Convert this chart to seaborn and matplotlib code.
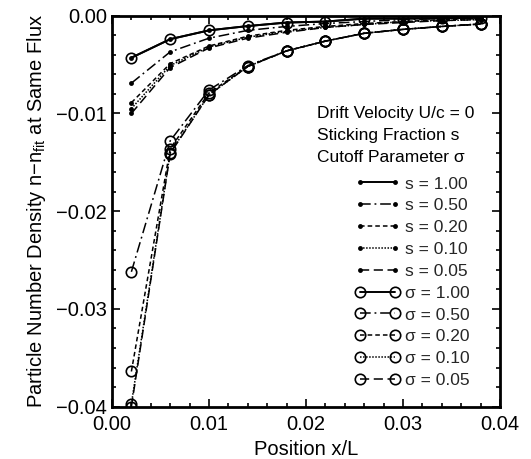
from matplotlib import pyplot as plt
from matplotlib.ticker import MultipleLocator, FuncFormatter
import numpy as np
import pandas as pd
import seaborn as sns

# --------------------------------------------------------
# Data
# --------------------------------------------------------
position = [0.002, 0.006, 0.010, 0.014, 0.018, 0.022, 0.026, 0.030, 0.034, 0.038]

s_labels = ["s = 1.00", "s = 0.50", "s = 0.20", "s = 0.10", "s = 0.05"]
s_100 = [-0.0043, -0.0024, -0.0015, -0.00106, -0.0007, -0.0006, -0.0003, -0.0003, -0.00025, -0.0002]
s_050 = [-0.0069, -0.0037, -0.0023, -0.0015, -0.0011, -0.0008, -0.0006, -0.0004, -0.0003, -0.0002]
s_020 = [-0.0089, -0.0049, -0.0031, -0.0021, -0.0015, -0.0011, -0.0008, -0.0006, -0.0004, -0.0003]
s_010 = [-0.0095, -0.0051, -0.0032, -0.0022, -0.0016, -0.0012, -0.0009, -0.0006, -0.0005, -0.0004]
s_005 = [-0.0100, -0.0053, -0.0033, -0.0023, -0.0017, -0.0012, -0.0009, -0.0007, -0.0005, -0.0004]

sig_labels = ["σ = 1.00", "σ = 0.50", "σ = 0.20", "σ = 0.10", "σ = 0.05"]
sig_100 = [-0.0043, -0.0024, -0.0015, -0.00106, -0.0007, -0.0006, -0.0003, -0.0003, -0.00025, -0.0002]
sig_050 = [-0.0262, -0.0128, -0.0076, -0.0051, -0.0036, -0.0026, -0.0018, -0.0014, -0.0011, -0.00085]
sig_020 = [-0.0364, -0.0136, -0.0079, -0.0052, -0.0036, -0.0026, -0.0018, -0.0014, -0.0011, -0.00085]
sig_010 = [-0.0397, -0.0140, -0.0081, -0.0052, -0.0036, -0.0026, -0.0018, -0.0014, -0.0011, -0.00085]
sig_005 = [-0.0400, -0.0141, -0.0081, -0.0052, -0.0036, -0.0026, -0.0018, -0.0014, -0.0011, -0.00085]

header = ["Drift Velocity U/c = 0", "Sticking Fraction s", "Cutoff Parameter σ"]

# --------------------------------------------------------
# Style
# --------------------------------------------------------
sns.set_theme(style="ticks")
plt.rcParams['font.family'] = ['Liberation Sans', 'DejaVu Sans']
plt.rcParams['mathtext.fontset'] = 'custom'
plt.rcParams['mathtext.rm'] = 'Liberation Sans'
plt.rcParams['mathtext.it'] = 'Liberation Sans'

line_styles = ['-', (0, (7, 2.5, 1.2, 2.5)), (0, (3, 2)), (0, (1, 1)), (0, (6, 3))]

fig = plt.figure(figsize=(5.31, 4.59), dpi=100)
ax = fig.add_axes([0.2109, 0.1140, 0.7307, 0.8518])

s_series = [s_100, s_050, s_020, s_010, s_005]
sig_series = [sig_100, sig_050, sig_020, sig_010, sig_005]

for vals, lab, ls in zip(sig_series, sig_labels, line_styles):
    df = pd.DataFrame({"x": position, "y": vals})
    sns.lineplot(data=df, x="x", y="y", ax=ax, color="black",
                 linestyle=ls, linewidth=1.1 if ls != '-' else 1.4,
                 marker="o", markersize=7.5, markerfacecolor="none",
                 markeredgecolor="black", markeredgewidth=1.2,
                 label=lab, sort=False)

for vals, lab, ls in zip(s_series, s_labels, line_styles):
    df = pd.DataFrame({"x": position, "y": vals})
    sns.lineplot(data=df, x="x", y="y", ax=ax, color="black",
                 linestyle=ls, linewidth=1.1 if ls != '-' else 1.4,
                 marker="o", markersize=3.5, markeredgewidth=0,
                 label=lab, sort=False)

ax.set_xlim(0.0, 0.04)
ax.set_ylim(-0.04, 0.0)
ax.xaxis.set_major_locator(MultipleLocator(0.01))
ax.xaxis.set_minor_locator(MultipleLocator(0.002))
ax.yaxis.set_major_locator(MultipleLocator(0.01))
ax.yaxis.set_minor_locator(MultipleLocator(0.002))
fmt = FuncFormatter(lambda v, p: f"{v:.2f}".replace("-", "\u2212") if abs(v) > 1e-9 else "0.00")
ax.xaxis.set_major_formatter(fmt)
ax.yaxis.set_major_formatter(fmt)

ax.tick_params(which='both', direction='in', top=True, right=True,
               labelsize=14.5, colors='black', width=1.2)
ax.tick_params(which='major', length=6)
ax.tick_params(which='minor', length=3)
ax.tick_params(axis='x', pad=6)
for sp in ax.spines.values():
    sp.set_linewidth(2)
    sp.set_color('black')

ax.set_xlabel("Position x/L", fontsize=14.5, color='black', labelpad=4)
ax.set_ylabel(r"Particle Number Density n$-$n$_{\rm fit}$ at Same Flux",
              fontsize=14.5, color='black', labelpad=6)

for i, line in enumerate(header):
    ax.text(0.528, 0.751 - i * 0.0565, line, transform=ax.transAxes,
            fontsize=12.5, va='center', ha='left', color='black')

handles, labels = ax.get_legend_handles_labels()
order = s_labels + sig_labels
hmap = dict(zip(labels, handles))
ax.legend([hmap[k] for k in order], order, loc='upper left',
          bbox_to_anchor=(0.626, 0.589), frameon=False, fontsize=12.5,
          numpoints=2, handlelength=2.6, handletextpad=0.3,
          labelspacing=0.385, borderpad=0, borderaxespad=0)

fig.savefig("out.png", dpi=100)
